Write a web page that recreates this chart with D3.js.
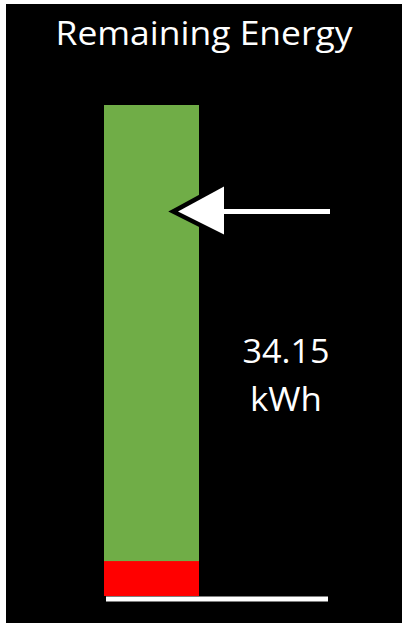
<!DOCTYPE html>
<html>
<head>
<meta charset="utf-8">
<script src="https://cdn.jsdelivr.net/npm/d3@7"></script>
<style>
  body { margin: 0; background: #fff; }
  svg { display: block; }
</style>
</head>
<body>
<div id="chart"></div>
<script>
// battery gauge values (kWh)
const categories = ["Battery"];
const capacity = [43.6];
const reserve = [3.1];
const remaining = [34.15];
const unitLabel = ["kWh"];
const titleText = "Remaining Energy";

const width = 403;
const height = 623;

const svg = d3
  .select("#chart")
  .append("svg")
  .attr("width", width)
  .attr("height", height);

// black panel
svg
  .append("rect")
  .attr("x", 6)
  .attr("y", 4)
  .attr("width", 396)
  .attr("height", height - 4)
  .attr("fill", "#000");

const x = d3.scaleBand().domain(categories).range([104, 199]).padding(0);
const y = d3.scaleLinear().domain([0, capacity[0]]).range([596, 105]);

// title
svg
  .append("text")
  .attr("x", 204)
  .attr("y", 45)
  .attr("text-anchor", "middle")
  .attr("fill", "#fff")
  .attr("font-family", "'Open Sans', sans-serif")
  .attr("font-size", 33)
  .attr("textLength", 297)
  .attr("lengthAdjust", "spacingAndGlyphs")
  .text(titleText);

// full capacity bar
svg
  .selectAll("rect.cap")
  .data(categories)
  .enter()
  .append("rect")
  .attr("class", "cap")
  .attr("x", (d) => x(d))
  .attr("width", x.bandwidth())
  .attr("y", (d, i) => y(capacity[i]))
  .attr("height", (d, i) => y(0) - y(capacity[i]))
  .attr("fill", "#70ad47");

// reserve
svg
  .selectAll("rect.res")
  .data(categories)
  .enter()
  .append("rect")
  .attr("class", "res")
  .attr("x", (d) => x(d))
  .attr("width", x.bandwidth())
  .attr("y", (d, i) => y(reserve[i]))
  .attr("height", (d, i) => y(0) - y(reserve[i]))
  .attr("fill", "#ff0000");

// baseline
svg
  .append("line")
  .attr("x1", x(categories[0]) + 2)
  .attr("x2", 328)
  .attr("y1", y(0) + 3)
  .attr("y2", y(0) + 3)
  .attr("stroke", "#fff")
  .attr("stroke-width", 5);

// arrow pointing at remaining level
const ay = y(remaining[0]);
const tipX = 178;
const headX = 224;
const arrow = svg.append("g").attr("class", "arrow");

arrow
  .append("path")
  .attr("d", `M${tipX},${ay} L${headX},${ay - 25} L${headX},${ay + 23} Z`)
  .attr("fill", "#fff")
  .attr("stroke", "#000")
  .attr("stroke-width", 9)
  .attr("stroke-linejoin", "miter")
  .attr("paint-order", "stroke");

arrow
  .append("line")
  .attr("x1", headX - 2)
  .attr("x2", 330)
  .attr("y1", ay)
  .attr("y2", ay)
  .attr("stroke", "#fff")
  .attr("stroke-width", 5);

// value label
const label = svg
  .append("text")
  .attr("text-anchor", "middle")
  .attr("fill", "#fff")
  .attr("font-family", "'Open Sans', sans-serif")
  .attr("font-size", 33);

label
  .append("tspan")
  .attr("x", 286)
  .attr("y", 363)
  .attr("textLength", 87)
  .attr("lengthAdjust", "spacingAndGlyphs")
  .text(remaining[0].toFixed(2));
label
  .append("tspan")
  .attr("x", 286)
  .attr("y", 411)
  .attr("textLength", 72)
  .attr("lengthAdjust", "spacingAndGlyphs")
  .text(unitLabel[0]);
</script>
</body>
</html>
